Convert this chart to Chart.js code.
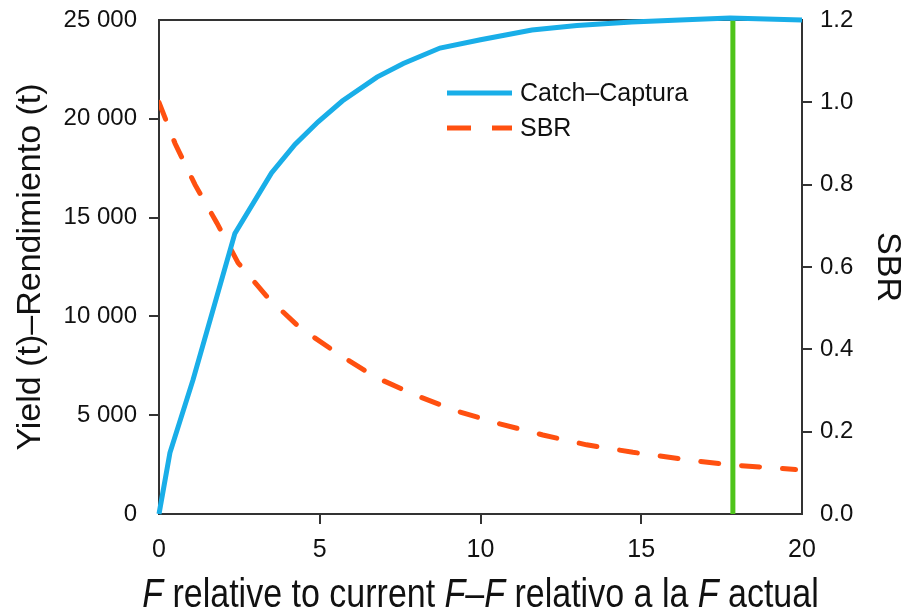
<!DOCTYPE html>
<html>
<head>
<meta charset="utf-8">
<script src="https://cdn.jsdelivr.net/npm/chart.js@4.4.0/dist/chart.umd.min.js"></script>
<style>
  html, body { margin: 0; padding: 0; background: #fff; }
</style>
</head>
<body>
<canvas id="chart" width="910" height="615"></canvas>
<script>
// values
var catchF   = [0, 0.34, 1.06, 2.36, 3.5, 4.23, 4.95, 5.7, 6.78, 7.6, 8.74, 10.0, 11.6, 13.0, 14.7, 16.2, 17.76, 20];
var catchT   = [0, 3100, 6800, 14200, 17260, 18700, 19850, 20900, 22110, 22800, 23580, 24000, 24490, 24720, 24900, 25000, 25100, 25000];
var sbrF     = [0, 0.5, 1.12, 1.8, 2.46, 3.39, 4.39, 5.63, 6.72, 7.96, 9.27, 10.6, 11.94, 13.3, 14.74, 16.7, 17.85, 19.8];
var sbrVal   = [1.0, 0.90, 0.80, 0.707, 0.61, 0.525, 0.452, 0.386, 0.333, 0.289, 0.25, 0.219, 0.192, 0.168, 0.15, 0.129, 0.119, 0.108];
var currentF = 17.85;
var yieldTicks = [0, 5000, 10000, 15000, 20000, 25000];
var sbrTicks   = [0, 0.2, 0.4, 0.6, 0.8, 1.0, 1.2];
var fTicks     = [0, 5, 10, 15, 20];

var BLUE = '#19aee8', ORANGE = '#ff5010', GREEN = '#4fc41a', INK = '#333333';
var SANS = '"Liberation Sans", Arial, sans-serif';

function pairs(xs, ys) {
    return xs.map(function( x, i ) { return { x: x, y: ys[ i ] }; });
}
function spaced(v) {
    return String(v).replace(/\B(?=(\d{3})+(?!\d))/g, ' ');
}
// hide the tick marks that sit on the frame corners
function endTick(min, max) {
    return function( ctx ) {
        if (!ctx.tick) return INK;
        return (ctx.tick.value === min || ctx.tick.value === max) ? 'rgba(0,0,0,0)' : INK;
    };
}
function fixed(w) {
    return function( s ) {
        s.width = w;
        s.paddingTop = 0;
        s.paddingBottom = 0;
    };
}

var frame = {
    id: 'frame',
    beforeDatasetsDraw: function( chart ) {
        var a = chart.chartArea, c = chart.ctx;
        c.save();
        c.strokeStyle = INK;
        c.lineWidth = 2;
        c.beginPath();
        c.moveTo(a.left - 1, a.top);
        c.lineTo(a.right + 1, a.top);
        c.stroke();
        c.restore();
    }
};

// x title: italic F mixed with upright text, squeezed a little like the original
var xTitle = {
    id: 'xTitle',
    afterDraw: function( chart ) {
        var parts = [['F', true], [' relative to current ', false], ['F', true], ['\u2013', false],
                     ['F', true], [' relativo a la ', false], ['F', true], [' actual', false]];
        var c = chart.ctx, a = chart.chartArea;
        var sx = 0.85, size = 40;
        c.save();
        c.fillStyle = '#111';
        c.textBaseline = 'alphabetic';
        var total = 0;
        parts.forEach(function( p ) {
            c.font = (p[1] ? 'italic ' : '') + size + 'px ' + SANS;
            p.w = c.measureText(p[0]).width;
            total += p.w;
        });
        var cx = (a.left + a.right) / 2;
        c.translate(cx, 607);
        c.scale(sx, 1);
        var x = -total / 2;
        parts.forEach(function( p ) {
            c.font = (p[1] ? 'italic ' : '') + size + 'px ' + SANS;
            c.fillText(p[0], x, 0);
            x += p.w;
        });
        c.restore();
    }
};

var legendBox = {
    id: 'legendBox',
    afterDraw: function( chart ) {
        var c = chart.ctx;
        var rows = [
            { label: 'Catch\u2013Captura', color: BLUE, dash: [], y: 93 },
            { label: 'SBR', color: ORANGE, dash: [24, 21], y: 128 }
        ];
        c.save();
        rows.forEach(function( r ) {
            c.strokeStyle = r.color;
            c.lineWidth = 5;
            c.lineCap = 'butt';
            c.setLineDash(r.dash);
            c.beginPath();
            c.moveTo(447, r.y);
            c.lineTo(512, r.y);
            c.stroke();
            c.setLineDash([]);
            c.fillStyle = '#111';
            c.font = '25px ' + SANS;
            c.textBaseline = 'middle';
            c.fillText(r.label, 520, r.y + 1);
        });
        c.restore();
    }
};

new Chart(document.getElementById('chart'), {
    type: 'line',
    data: {
        datasets: [
            {
                label: 'Catch\u2013Captura',
                data: pairs(catchF, catchT),
                yAxisID: 'y',
                borderColor: BLUE,
                borderWidth: 5,
                pointRadius: 0,
                tension: 0,
                clip: 6
            },
            {
                label: 'SBR',
                data: pairs(sbrF, sbrVal),
                yAxisID: 'y1',
                borderColor: ORANGE,
                borderWidth: 5,
                borderDash: [18, 23],
                borderCapStyle: 'round',
                pointRadius: 0,
                tension: 0
            },
            {
                label: 'current F',
                data: [{ x: currentF, y: 0 }, { x: currentF, y: 25000 }],
                yAxisID: 'y',
                borderColor: GREEN,
                borderWidth: 5,
                pointRadius: 0
            }
        ]
    },
    options: {
        responsive: false,
        animation: false,
        layout: { padding: { top: 20, left: 0, right: 0, bottom: 0 } },
        plugins: {
            legend: { display: false },
            tooltip: { enabled: false }
        },
        scales: {
            x: {
                type: 'linear',
                min: 0,
                max: 20,
                afterBuildTicks: function( s ) { s.ticks = fTicks.map(function( v ) { return { value: v }; }); },
                afterFit: function( s ) { s.height = 101; s.paddingLeft = 0; s.paddingRight = 0; },
                grid: { drawOnChartArea: false, tickLength: 10, lineWidth: 2, color: endTick(0, 20) },
                border: { color: INK, width: 2 },
                ticks: { color: '#111', padding: 11, maxRotation: 0, font: { family: SANS, size: 25 } }
            },
            y: {
                position: 'left',
                min: 0,
                max: 25000,
                afterBuildTicks: function( s ) { s.ticks = yieldTicks.map(function( v ) { return { value: v }; }); },
                afterFit: fixed(159),
                grid: { drawOnChartArea: false, tickLength: 10, lineWidth: 2, color: endTick(0, 25000) },
                border: { color: INK, width: 2 },
                ticks: { color: '#111', padding: 12, font: { family: SANS, size: 24 }, callback: function( v ) { return spaced(v); } },
                title: { display: true, text: 'Yield (t)\u2013Rendimiento (t)', color: '#111', padding: { top: 10, bottom: 0 }, font: { family: SANS, size: 34 } }
            },
            y1: {
                position: 'right',
                min: 0,
                max: 1.2,
                afterBuildTicks: function( s ) { s.ticks = sbrTicks.map(function( v ) { return { value: v }; }); },
                afterFit: fixed(108),
                grid: { drawOnChartArea: false, tickLength: 10, lineWidth: 2, color: endTick(0, 1.2) },
                border: { color: INK, width: 2 },
                ticks: { color: '#111', padding: 8, font: { family: SANS, size: 24 }, callback: function( v ) { return v.toFixed(1); } },
                title: { display: true, text: 'SBR', color: '#111', padding: { top: 2, bottom: 0 }, font: { family: SANS, size: 34 } }
            }
        }
    },
    plugins: [frame, xTitle, legendBox]
});
</script>
</body>
</html>
